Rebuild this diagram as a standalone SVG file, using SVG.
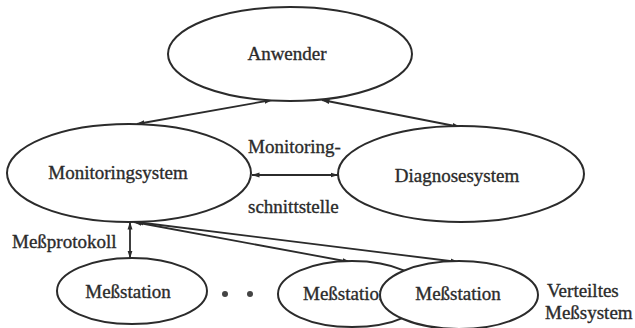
<svg xmlns="http://www.w3.org/2000/svg" width="635" height="328" viewBox="0 0 635 328">
<style>
.n{fill:#fff;stroke:#2b2b2b;stroke-width:2}
.t{font-family:"Liberation Serif","DejaVu Serif",serif;font-size:19px;fill:#2b2b2b;stroke:#2b2b2b;stroke-width:0.35}
.c{fill:none;stroke:#2b2b2b;stroke-width:1.8;marker-start:url(#a);marker-end:url(#a)}
</style>
<defs>
<marker id="a" viewBox="0 0 8 6" refX="7.5" refY="3" markerWidth="8" markerHeight="6" markerUnits="userSpaceOnUse" orient="auto-start-reverse">
<path d="M0,0.5 L8,3 L0,5.5 Z" fill="#2b2b2b"/>
</marker>
</defs>
<rect width="635" height="328" fill="#fff"/>
<g id="connectors">
<line class="c" x1="137" y1="124" x2="272" y2="100"/>
<line class="c" x1="322" y1="100" x2="460" y2="127"/>
<line class="c" x1="252" y1="175" x2="338" y2="175"/>
<line class="c" x1="130" y1="222" x2="130" y2="258"/>
<line class="c" x1="134" y1="222" x2="350" y2="262"/>
<line class="c" x1="136" y1="222" x2="458" y2="262"/>
</g>
<g id="anwender"><ellipse class="n" cx="290" cy="54" rx="122" ry="47"/><text class="t" x="287" y="60" text-anchor="middle">Anwender</text></g>
<g id="monitoringsystem"><ellipse class="n" cx="129" cy="173" rx="122" ry="49"/><text class="t" x="118" y="179" text-anchor="middle">Monitoringsystem</text></g>
<g id="diagnosesystem"><ellipse class="n" cx="461" cy="174" rx="123" ry="48"/><text class="t" x="457" y="182" text-anchor="middle">Diagnosesystem</text></g>
<g id="schnittstelle-label"><text class="t" x="248" y="153">Monitoring-</text><text class="t" x="248" y="213">schnittstelle</text></g>
<g id="messprotokoll-label"><text class="t" x="12" y="248">Meßprotokoll</text></g>
<g id="messstation1"><ellipse class="n" cx="132" cy="291" rx="75" ry="33"/><text class="t" x="128" y="298" text-anchor="middle">Meßstation</text></g>
<g id="dots"><circle cx="225" cy="294" r="3" fill="#444"/><circle cx="250" cy="294" r="3" fill="#444"/></g>
<g id="messstation2"><ellipse class="n" cx="352" cy="294" rx="74" ry="33"/><text class="t" x="303" y="300">Meßstation</text></g>
<g id="messstation3"><ellipse class="n" cx="459" cy="295" rx="79" ry="34"/><text class="t" x="458" y="300" text-anchor="middle">Meßstation</text></g>
<g id="verteiltes-label"><text class="t" x="547" y="297">Verteiltes</text><text class="t" x="545" y="319">Meßsystem</text></g>
</svg>
